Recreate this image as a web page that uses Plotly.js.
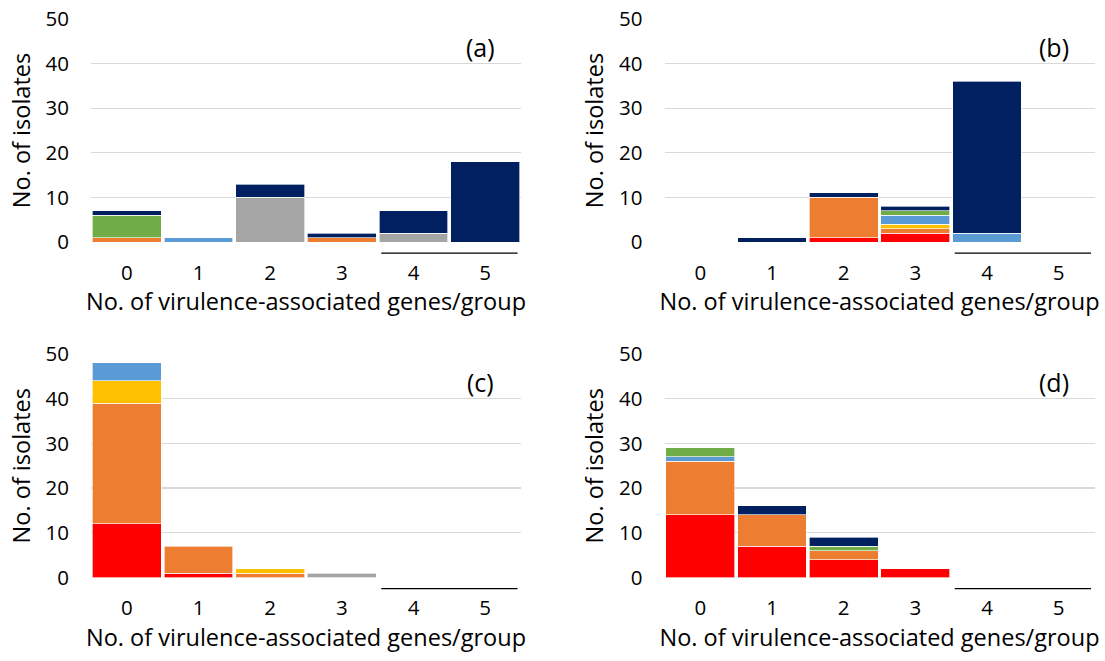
<!DOCTYPE html>
<html>
<head>
<meta charset="utf-8">
<script src="https://cdn.plot.ly/plotly-3.0.1.min.js"></script>
<style>html,body{margin:0;padding:0;background:#fff;}#chart{width:1105px;height:661px;}</style>
</head>
<body>
<div id="chart"></div>
<script>
// Categories: number of virulence-associated genes per group
const categories = [0, 1, 2, 3, 4, 5];
const tickLabels = ["0", "1", "2", "3", "4", "5"];
const panelLabels = ["(a)", "(b)", "(c)", "(d)"];

// Series (stack order bottom -> top), one array per panel
const seriesNames = ["red", "orange", "yellow", "blue", "green", "gray", "navy"];
const seriesColors = ["#FF0000", "#ED7D31", "#FFC000", "#5B9BD5", "#70AD47", "#A5A5A5", "#002060"];

// Panel (a)
const a_red    = [0, 0, 0, 0, 0, 0];
const a_orange = [1, 0, 0, 1, 0, 0];
const a_yellow = [0, 0, 0, 0, 0, 0];
const a_blue   = [0, 1, 0, 0, 0, 0];
const a_green  = [5, 0, 0, 0, 0, 0];
const a_gray   = [0, 0, 10, 0, 2, 0];
const a_navy   = [1, 0, 3, 1, 5, 18];

// Panel (b)
const b_red    = [0, 0, 1, 2, 0, 0];
const b_orange = [0, 0, 9, 1, 0, 0];
const b_yellow = [0, 0, 0, 1, 0, 0];
const b_blue   = [0, 0, 0, 2, 2, 0];
const b_green  = [0, 0, 0, 1, 0, 0];
const b_gray   = [0, 0, 0, 0, 0, 0];
const b_navy   = [0, 1, 1, 1, 34, 0];

// Panel (c)
const c_red    = [12, 1, 0, 0, 0, 0];
const c_orange = [27, 6, 1, 0, 0, 0];
const c_yellow = [5, 0, 1, 0, 0, 0];
const c_blue   = [4, 0, 0, 0, 0, 0];
const c_green  = [0, 0, 0, 0, 0, 0];
const c_gray   = [0, 0, 0, 1, 0, 0];
const c_navy   = [0, 0, 0, 0, 0, 0];

// Panel (d)
const d_red    = [14, 7, 4, 2, 0, 0];
const d_orange = [12, 7, 2, 0, 0, 0];
const d_yellow = [0, 0, 0, 0, 0, 0];
const d_blue   = [1, 0, 0, 0, 0, 0];
const d_green  = [2, 0, 1, 0, 0, 0];
const d_gray   = [0, 0, 0, 0, 0, 0];
const d_navy   = [0, 2, 2, 0, 0, 0];

const panels = [
  [a_red, a_orange, a_yellow, a_blue, a_green, a_gray, a_navy],
  [b_red, b_orange, b_yellow, b_blue, b_green, b_gray, b_navy],
  [c_red, c_orange, c_yellow, c_blue, c_green, c_gray, c_navy],
  [d_red, d_orange, d_yellow, d_blue, d_green, d_gray, d_navy]
];

const FONT = "Open Sans, Noto Sans, sans-serif";
const W = 1105, H = 661;
// plot areas in pixels: [left, right, top, bottom]
const boxes = [
  [91, 521, 19, 242],
  [664.5, 1094.5, 19, 242],
  [91, 521, 354, 577.5],
  [664.5, 1094.5, 354, 577.5]
];

const traces = [];
const layout = {
  width: W, height: H,
  margin: {l: 0, r: 0, t: 0, b: 0},
  paper_bgcolor: "#fff", plot_bgcolor: "#fff",
  barmode: "stack", bargap: 0.04,
  showlegend: false,
  font: {family: FONT, color: "#000", size: 20},
  annotations: [], shapes: []
};

panels.forEach((series, p) => {
  const n = p + 1;
  const xa = "x" + (n === 1 ? "" : n), ya = "y" + (n === 1 ? "" : n);
  series.forEach((vals, s) => {
    traces.push({
      type: "bar", x: categories, y: vals.map(v => v === 0 ? null : v),
      name: seriesNames[s], xaxis: xa, yaxis: ya,
      marker: {color: seriesColors[s], line: {color: "rgba(255,255,255,0.8)", width: 0.8}},
      hoverinfo: "y+name"
    });
  });
  const b = boxes[p];
  const xk = "xaxis" + (n === 1 ? "" : n), yk = "yaxis" + (n === 1 ? "" : n);
  layout[xk] = {
    domain: [b[0] / W, b[1] / W], anchor: ya,
    range: [-0.5, 5.5], tickvals: categories, ticktext: tickLabels,
    showgrid: false, zeroline: false, showline: false,
    ticks: "", ticklabelstandoff: 16,
    tickfont: {family: FONT, size: 20.5, color: "#000"},
    title: {text: "No. of virulence-associated genes/group", font: {family: FONT, size: 23.5, color: "#000"}, standoff: 2},
    fixedrange: true
  };
  layout[yk] = {
    domain: [1 - b[3] / H, 1 - b[2] / H], anchor: xa,
    range: [0, 50], tickvals: [0, 10, 20, 30, 40, 50],
    showgrid: true, gridcolor: "#D9D9D9", gridwidth: 1.3,
    zeroline: false, showline: false, ticks: "", ticklabelstandoff: 21,
    tickfont: {family: FONT, size: 20.5, color: "#000"},
    title: {text: "No. of isolates", font: {family: FONT, size: 23.5, color: "#000"}, standoff: 8},
    fixedrange: true
  };
  layout.annotations.push({
    text: panelLabels[p], xref: xa + " domain", yref: ya + " domain",
    x: 0.905, y: 0.875, xanchor: "center", yanchor: "middle", showarrow: false,
    font: {family: FONT, size: 25, color: "#000"}
  });
  layout.shapes.push({
    type: "line", xref: xa + " domain", yref: ya + " domain",
    x0: 0.675, x1: 0.992, y0: -0.05, y1: -0.05,
    line: {color: "#000", width: 1.3}
  });
});

Plotly.newPlot("chart", traces, layout, {staticPlot: true, displayModeBar: false});
</script>
</body>
</html>
